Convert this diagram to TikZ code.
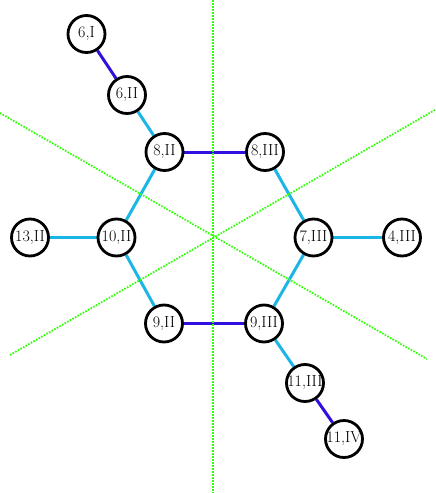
\documentclass[tikz,border=0pt]{standalone}
\usetikzlibrary{backgrounds}
\definecolor{cyanedge}{RGB}{28,182,230}
\definecolor{blueedge}{RGB}{48,16,222}
\definecolor{axisgreen}{RGB}{50,255,10}
\tikzset{
  atom/.style={circle, draw=black, line width=2.8pt, fill=white, minimum size=37pt, inner sep=0pt, font=\fontsize{16}{17}\selectfont},
  cbond/.style={draw=cyanedge, line width=3pt},
  bbond/.style={draw=blueedge, line width=3pt},
  axis/.style={draw=axisgreen, line width=1.8pt, dash pattern=on 1.6pt off 1.4pt}
}
\newcommand{\lab}[1]{\makebox[0pt]{#1}}
\begin{document}
\begin{tikzpicture}[x=1pt,y=-1pt]
\useasboundingbox (0,0) rectangle (436,493);
\begin{scope}
\clip (0,0) rectangle (436,493);
\coordinate (v1) at (213,0);
\coordinate (v2) at (213,493);
\coordinate (d1) at (0,113);
\coordinate (d2) at (427,359);
\coordinate (e1) at (10,355);
\coordinate (e2) at (440,107);
\draw[axis] (v1) -- (v2);
\draw[axis] (d1) -- (d2);
\draw[axis] (e1) -- (e2);
\end{scope}
\node[atom] (a6I) at (86.5,34) {\lab{6,I}};
\node[atom] (a6II) at (127,95) {\lab{6,II}};
\node[atom] (a8II) at (164.5,152) {\lab{8,II}};
\node[atom] (a8III) at (265,152) {\lab{8,III}};
\node[atom] (a13II) at (30,237.5) {\lab{13,II}};
\node[atom] (a10II) at (116.5,237.5) {\lab{10,II}};
\node[atom] (a7III) at (313.5,237.5) {\lab{7,III}};
\node[atom] (a4III) at (402,237.5) {\lab{4,III}};
\node[atom] (a9II) at (164,323.5) {\lab{9,II}};
\node[atom] (a9III) at (264,323.5) {\lab{9,III}};
\node[atom] (a11III) at (305,383) {\lab{11,III}};
\node[atom] (a11IV) at (344,439) {\lab{11,IV}};
\begin{scope}[on background layer]
\draw[bbond] (a6I) -- (a6II);
\draw[cbond] (a6II) -- (a8II);
\draw[bbond] (a8II) -- (a8III);
\draw[cbond] (a8II) -- (a10II);
\draw[cbond] (a8III) -- (a7III);
\draw[cbond] (a13II) -- (a10II);
\draw[cbond] (a7III) -- (a4III);
\draw[cbond] (a10II) -- (a9II);
\draw[cbond] (a7III) -- (a9III);
\draw[bbond] (a9II) -- (a9III);
\draw[cbond] (a9III) -- (a11III);
\draw[bbond] (a11III) -- (a11IV);
\end{scope}
\end{tikzpicture}
\end{document}
